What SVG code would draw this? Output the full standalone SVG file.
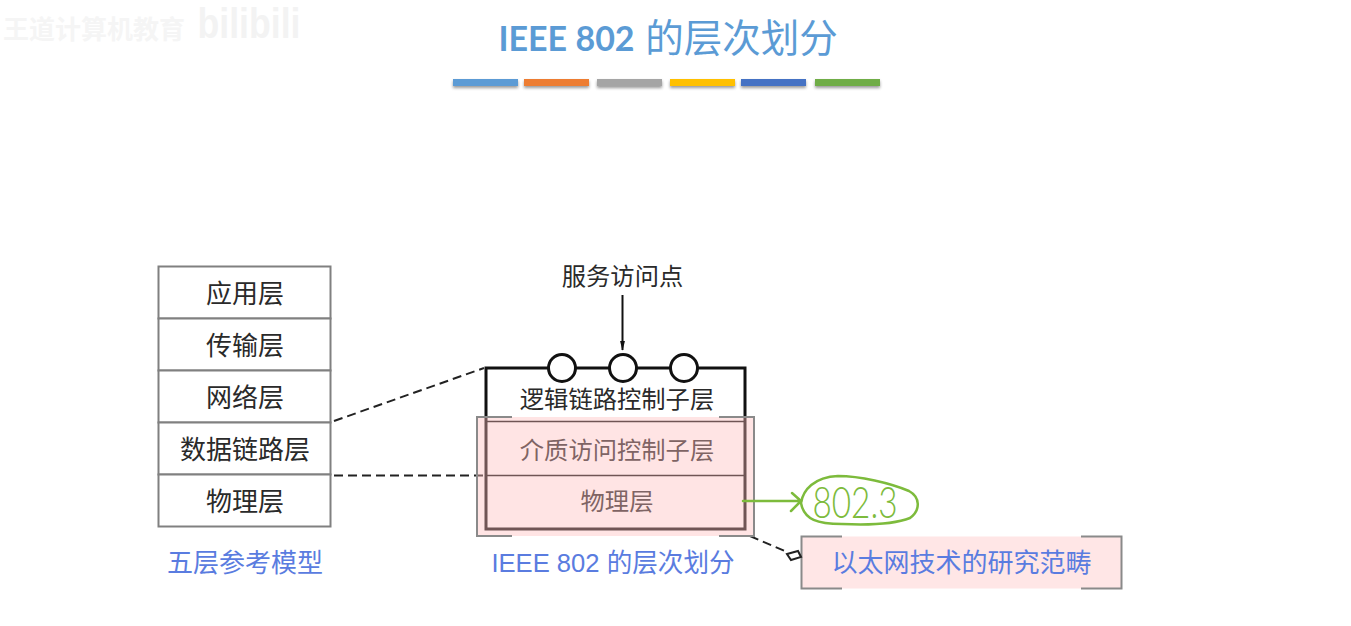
<svg xmlns="http://www.w3.org/2000/svg" width="1351" height="626" viewBox="0 0 1351 626">
<style>
text{font-family:"Noto Sans CJK SC","Liberation Sans",sans-serif;text-anchor:middle}
.cell{fill:#fff;stroke:#808080;stroke-width:2}
.t26{font-size:26px;fill:#2a2a2a}
.t24{font-size:24.3px;fill:#2a2a2a}
.lab{font-size:26px;fill:#5a7ce0}
.dash{fill:none;stroke:#222;stroke-width:2;stroke-dasharray:9 5}
.sap{fill:#fff;stroke:#111;stroke-width:3}
.brk{fill:none;stroke:#8a8a8a;stroke-width:2}
.gr{fill:none;stroke:#7dbb3c;stroke-width:2.500;stroke-linecap:round;stroke-linejoin:round}
.bar{filter:url(#sh)}
</style>
<defs>
<filter id="sh" x="-10%" y="-50%" width="120%" height="220%"><feDropShadow dx="0" dy="2" stdDeviation="1.500" flood-color="#000" flood-opacity=".4"/></filter>
<marker id="ah" markerWidth="10" markerHeight="16" refX="15" refY="5" orient="auto" markerUnits="userSpaceOnUse" viewBox="0 0 16 10"><path d="M0 1L16 5L0 9Z" fill="#111"/></marker>
</defs>
<rect width="1351" height="626" fill="#fff"/>
<g id="watermark">
<text x="94" y="39" style="font-size:26px;font-weight:700;fill:#f5f5f5">王道计算机教育</text>
<text x="249" y="38" textLength="103" lengthAdjust="spacingAndGlyphs" style="font-size:42px;font-weight:700;fill:#f3f3f3;font-family:'Liberation Sans',sans-serif">bilibili</text>
</g>
<g id="title">
<text x="566.500" y="51" style="font-size:34px;fill:#5b9bd5;font-family:Lato,sans-serif;font-weight:700">IEEE 802</text>
<text x="741.500" y="52" style="font-size:38.500px;fill:#5b9bd5">的层次划分</text>
<rect class="bar" x="453" y="79" width="65" height="7" fill="#5b9bd5"/>
<rect class="bar" x="524" y="79" width="65" height="7" fill="#ed7d31"/>
<rect class="bar" x="597" y="79" width="65" height="7" fill="#a5a5a5"/>
<rect class="bar" x="670" y="79" width="65" height="7" fill="#ffc000"/>
<rect class="bar" x="741" y="79" width="65" height="7" fill="#4472c4"/>
<rect class="bar" x="815" y="79" width="65" height="7" fill="#70ad47"/>
</g>
<g id="connectors">
<path class="dash" d="M334 421L484 368"/>
<path class="dash" d="M334 475.500H486"/>
<path class="dash" d="M750 536L787 552"/>
<path d="M622.500 295V350" fill="none" stroke="#111" stroke-width="2" marker-end="url(#ah)"/>
</g>
<g id="five-layer">
<g id="n-app"><rect class="cell" x="158.500" y="266.500" width="172" height="52"/><text class="t26" x="245" y="303">应用层</text></g>
<g id="n-trans"><rect class="cell" x="158.500" y="318.500" width="172" height="52"/><text class="t26" x="245" y="355">传输层</text></g>
<g id="n-net"><rect class="cell" x="158.500" y="370.500" width="172" height="52"/><text class="t26" x="245" y="407">网络层</text></g>
<g id="n-link"><rect class="cell" x="158.500" y="422.500" width="172" height="52"/><text class="t26" x="245" y="459">数据链路层</text></g>
<g id="n-phys"><rect class="cell" x="158.500" y="474.500" width="172" height="52"/><text class="t26" x="245" y="511">物理层</text></g>
<text class="lab" x="245" y="572">五层参考模型</text>
</g>
<g id="sap-label"><text x="622.500" y="285" style="font-size:24.300px;fill:#2a2a2a">服务访问点</text></g>
<g id="ieee-stack">
<rect x="486" y="368" width="259" height="161" fill="#fff" stroke="#111" stroke-width="3"/>
<path d="M486 421.500H745M486 475.500H745" stroke="#111" stroke-width="1.500" fill="none"/>
<circle class="sap" cx="562" cy="368" r="13.500"/>
<circle class="sap" cx="623" cy="368" r="13.500"/>
<circle class="sap" cx="684" cy="368" r="13.500"/>
<text class="t24" x="617" y="408">逻辑链路控制子层</text>
<text class="t24" x="617" y="459">介质访问控制子层</text>
<text class="t24" x="617" y="510">物理层</text>
</g>
<g id="highlight">
<rect x="477" y="417" width="277" height="119" fill="#ffbbbb" fill-opacity=".4"/>
<path class="brk" d="M512 417H477V536H512M719 417H754V536H719"/>
</g>
<g id="ieee-label"><text class="lab" x="613" y="572" style="font-size:25.600px"><tspan style="font-family:'Liberation Sans',sans-serif">IEEE 802 </tspan>的层次划分</text></g>
<g id="callout">
<rect x="801.500" y="536.500" width="320" height="52" fill="#ffe6e6"/>
<path class="brk" d="M842 536.500H801.500V588.500H842M1081 536.500H1121.500V588.500H1081"/>
<text class="lab" x="961.500" y="572">以太网技术的研究范畴</text>
<path d="M787 554L798 551L801 557L791 560Z" fill="#fff" stroke="#222" stroke-width="2"/>
</g>
<g id="annotation">
<path class="gr" d="M743 501H801M792 493L801 501L791 511"/>
<path class="gr" d="M801 503C803 490 814 477 838 476C860 476 890 483 909 491C920 497 921 510 910 518C895 524 865 525 842 524C818 524 804 520 801 503Z"/>
<text x="855" y="518" textLength="85" lengthAdjust="spacingAndGlyphs" style="font-family:Lato,sans-serif;font-size:44px;font-weight:300;fill:#7dbb3c">802.3</text>
</g>
</svg>
